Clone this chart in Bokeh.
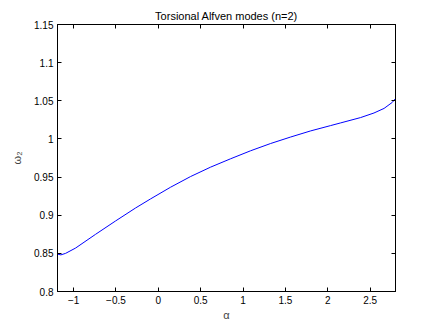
from bokeh.plotting import figure
from bokeh.models import Range1d, LinearAxis, FixedTicker, Title
from bokeh.embed import file_html
from bokeh.resources import INLINE

# data
alpha = [-1.19, -1.15, -1.094, -0.976, -0.74, -0.504, -0.268, -0.091, 0.145, 0.381,
         0.617, 0.854, 1.09, 1.326, 1.562, 1.798, 2.034, 2.152, 2.388, 2.546,
         2.665, 2.763, 2.80]
omega2 = [0.849, 0.848, 0.850, 0.857, 0.875, 0.8925, 0.9095, 0.9214, 0.9367, 0.9507,
          0.963, 0.974, 0.9845, 0.994, 1.0025, 1.0105, 1.0175, 1.021, 1.028, 1.034,
          1.040, 1.048, 1.053]

x_ticks = [-1, -0.5, 0, 0.5, 1, 1.5, 2, 2.5]
x_labels = ["\u22121", "\u22120.5", "0", "0.5", "1", "1.5", "2", "2.5"]
y_ticks = [0.8, 0.85, 0.9, 0.95, 1.0, 1.05, 1.1, 1.15]
y_labels = ["0.8", "0.85", "0.9", "0.95", "1", "1.05", "1.1", "1.15"]

FONT = "Liberation Sans"

p = figure(width=436, height=327, output_backend="svg", toolbar_location=None,
           x_range=Range1d(-1.19, 2.80), y_range=Range1d(0.8, 1.15),
           min_border_left=57, min_border_right=41, min_border_top=24, min_border_bottom=36,
           background_fill_color="white", border_fill_color="white")
p.outline_line_color = "black"
p.grid.visible = False

p.line(alpha, omega2, line_color="#0000ff", line_width=1)

def style(ax, show):
    ax.axis_line_color = "black"
    ax.major_tick_line_color = "black"
    ax.minor_tick_line_color = None
    ax.major_tick_in = 4
    ax.major_tick_out = 0
    ax.major_label_text_font = FONT
    if show:
        ax.major_label_text_font_size = "10px"
        ax.major_label_text_color = "black"
    else:
        ax.major_label_text_font_size = "1px"
        ax.major_label_text_color = None
    ax.axis_label_text_font = FONT
    ax.axis_label_text_font_style = "normal"
    ax.axis_label_text_font_size = "11px"

xa = p.xaxis[0]
xa.ticker = FixedTicker(ticks=x_ticks)
xa.major_label_overrides = {v: l for v, l in zip(x_ticks, x_labels)}
style(xa, True)
xa.major_label_standoff = 4
xa.axis_label = "\u03b1"
xa.axis_label_standoff = 2

ya = p.yaxis[0]
ya.ticker = FixedTicker(ticks=y_ticks)
ya.major_label_overrides = {v: l for v, l in zip(y_ticks, y_labels)}
style(ya, True)
ya.major_label_standoff = 4
ya.axis_label = "\u03c9\u2082"
ya.axis_label_standoff = 8

ra = LinearAxis(ticker=FixedTicker(ticks=y_ticks))
style(ra, False)
ra.major_label_standoff = 0
p.add_layout(ra, "right")

ta = LinearAxis(ticker=FixedTicker(ticks=x_ticks))
style(ta, False)
ta.major_label_standoff = 0

t = Title(text="Torsional Alfven modes (n=2)", align="center", text_font=FONT,
          text_font_size="11px", text_font_style="normal", text_color="black",
          standoff=6, offset=0)
p.above = [ta, t]

open("out.html", "w").write(file_html(p, INLINE))
